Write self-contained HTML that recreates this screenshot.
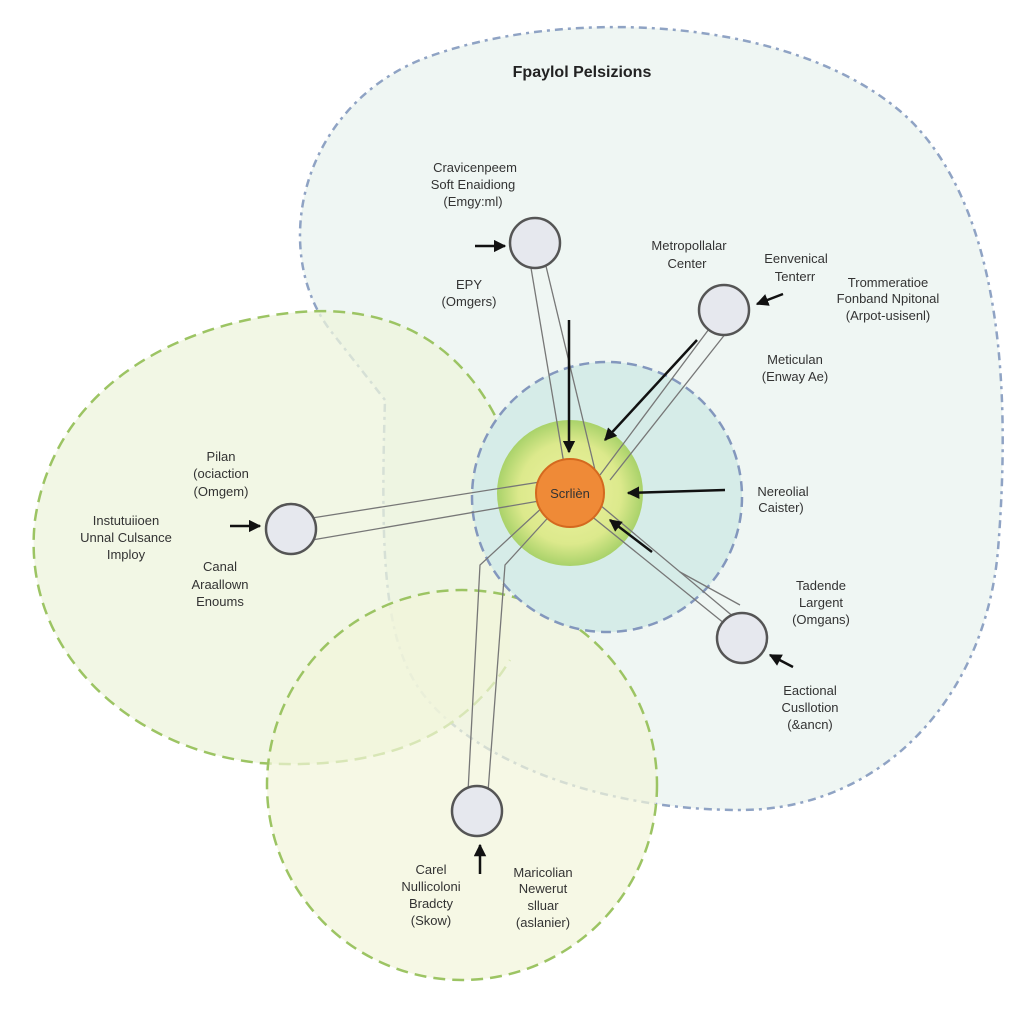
<!DOCTYPE html>
<html><head><meta charset="utf-8"><style>
html,body{margin:0;padding:0;background:#fff}
svg{display:block}
text{font-family:"Liberation Sans",sans-serif;fill:#333;font-size:13px;text-anchor:middle}
.b{font-weight:bold;fill:#222}
</style></head><body>
<svg width="1024" height="1024" viewBox="0 0 1024 1024" xmlns="http://www.w3.org/2000/svg">
<defs>
<radialGradient id="glow" cx="50%" cy="50%" r="50%">
<stop offset="0%" stop-color="#eef3a0"/><stop offset="70%" stop-color="#dce98c"/><stop offset="100%" stop-color="#a9d26a"/>
</radialGradient>
<marker id="ar" viewBox="0 0 10 10" refX="9" refY="5" markerWidth="5" markerHeight="5" orient="auto"><path d="M0,0 L10,5 L0,10 z" fill="#111"/></marker>
</defs>
<rect width="1024" height="1024" fill="#fff"/>
<path d="M385,400 L330,330 C270,250 300,110 420,60 C560,5 800,15 910,120 C1005,215 1010,400 998,550 C985,700 880,810 740,810 C600,810 470,760 420,690 C385,640 380,560 385,400 Z" fill="#eff6f3" stroke="#8fa3c4" stroke-width="2.5" stroke-dasharray="3,5,8,5"/>
<path d="M510,450 C470,340 390,305 300,312 C180,322 55,385 35,520 C20,650 130,750 260,763 C400,772 470,725 510,660" fill="#eef4dc" fill-opacity="0.75" stroke="#9cc463" stroke-width="2.5" stroke-dasharray="12,7"/>
<circle cx="462" cy="785" r="195" fill="#f2f5da" fill-opacity="0.7" stroke="#9cc463" stroke-width="2.5" stroke-dasharray="12,7"/>
<circle cx="607" cy="497" r="135" fill="#d6ece8" stroke="#8397bd" stroke-width="2.5" stroke-dasharray="10,6"/>
<circle cx="570" cy="493" r="73" fill="url(#glow)"/>
<g stroke="#777" stroke-width="1.3" fill="none">
<path d="M530,262 L565,470"/><path d="M545,262 L595,470"/>
<path d="M712,325 L600,475"/><path d="M730,328 L610,480"/>
<path d="M312,518 L540,482"/><path d="M312,540 L545,500"/>
<path d="M730,628 L590,515"/><path d="M735,618 L600,505"/>
<path d="M468,792 L480,565 L545,505"/><path d="M488,792 L505,565 L555,510"/>
<path d="M680,572 L740,605"/>
</g>
<g stroke="#111" stroke-width="2.5" fill="none" marker-end="url(#ar)">
<path d="M569,320 L569,452"/>
<path d="M697,340 L605,440"/>
<path d="M725,490 L628,493"/>
<path d="M652,552 L610,520"/>
<path d="M475,246 L505,246"/>
<path d="M783,294 L757,304"/>
<path d="M230,526 L260,526"/>
<path d="M793,667 L770,655"/>
<path d="M480,874 L480,845"/>
</g>
<circle cx="570" cy="493" r="34" fill="#ef8a37" stroke="#d4691f" stroke-width="2"/>
<text x="570" y="498">Scrlièn</text>
<g fill="#e6e8ee" stroke="#555" stroke-width="2.5">
<circle cx="535" cy="243" r="25"/><circle cx="724" cy="310" r="25"/><circle cx="291" cy="529" r="25"/><circle cx="742" cy="638" r="25"/><circle cx="477" cy="811" r="25"/>
</g>
<text x="582" y="77" class="b" style="font-size:16px">Fpaylol Pelsizions</text>
<text x="475" y="172">Cravicenpeem</text><text x="473" y="189">Soft Enaidiong</text><text x="473" y="206">(Emgy:ml)</text>
<text x="469" y="289">EPY</text><text x="469" y="306">(Omgers)</text>
<text x="689" y="250">Metropollalar</text><text x="687" y="268">Center</text>
<text x="796" y="263">Eenvenical</text><text x="795" y="281">Tenterr</text>
<text x="888" y="287">Trommeratioe</text><text x="888" y="303">Fonband Npitonal</text><text x="888" y="320">(Arpot-usisenl)</text>
<text x="795" y="364">Meticulan</text><text x="795" y="381">(Enway Ae)</text>
<text x="783" y="496">Nereolial</text><text x="781" y="512">Caister)</text>
<text x="821" y="590">Tadende</text><text x="821" y="607">Largent</text><text x="821" y="624">(Omgans)</text>
<text x="810" y="695">Eactional</text><text x="810" y="712">Cusllotion</text><text x="810" y="729">(&amp;ancn)</text>
<text x="221" y="461">Pilan</text><text x="221" y="478">(ociaction</text><text x="221" y="496">(Omgem)</text>
<text x="126" y="525">Instutuiioen</text><text x="126" y="542">Unnal Culsance</text><text x="126" y="559">Imploy</text>
<text x="220" y="571">Canal</text><text x="220" y="589">Araallown</text><text x="220" y="606">Enoums</text>
<text x="431" y="874">Carel</text><text x="431" y="891">Nullicoloni</text><text x="431" y="908">Bradcty</text><text x="431" y="925">(Skow)</text>
<text x="543" y="877">Maricolian</text><text x="543" y="893">Newerut</text><text x="543" y="910">slluar</text><text x="543" y="927">(aslanier)</text>
</svg>
</body></html>
